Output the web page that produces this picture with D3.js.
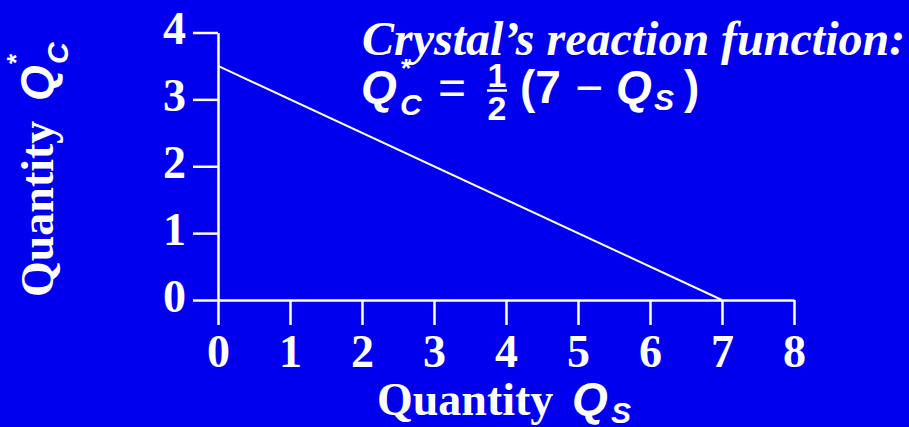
<!DOCTYPE html>
<html>
<head>
<meta charset="utf-8">
<script src="https://cdn.jsdelivr.net/npm/d3@7"></script>
<style>
  html, body { margin: 0; padding: 0; background: #0000ee; }
  svg { display: block; }
</style>
</head>
<body>
<svg id="chart" width="909" height="427"></svg>
<script>
// Crystal's reaction function: Qc* = 1/2 (7 - Qs)
const xTicks = [0, 1, 2, 3, 4, 5, 6, 7, 8];
const yTicks = [0, 1, 2, 3, 4];
const xDomain = [0, 8];
const yDomain = [0, 4];
// Endpoints of the reaction line (Qs, Qc)
const reactionQs = [0, 7];
const reactionQc = [3.5, 0];

const W = 909, H = 427;
const BG = "#0000ee";
const FG = "#ffffff";
const serif = "'Liberation Serif', 'Times New Roman', serif";
const sans = "'Liberation Sans', Arial, Helvetica, sans-serif";

const svg = d3.select("#chart");
svg.append("rect").attr("width", W).attr("height", H).attr("fill", BG);

const x = d3.scaleLinear().domain(xDomain).range([218, 794]);
const y = d3.scaleLinear().domain(yDomain).range([300, 32.5]);

// X axis
const gx = svg.append("g")
  .attr("transform", `translate(0,${y(0)})`)
  .call(d3.axisBottom(x).tickValues(xTicks).tickSize(25).tickSizeOuter(0).tickFormat(d3.format("d")));

// Y axis
const gy = svg.append("g")
  .attr("transform", `translate(${x(0)},0)`)
  .call(d3.axisLeft(y).tickValues(yTicks).tickSize(25).tickSizeOuter(0).tickFormat(d3.format("d")));

[gx, gy].forEach(g => {
  g.select(".domain").attr("stroke", FG).attr("stroke-width", 2.5);
  g.selectAll(".tick line").attr("stroke", FG).attr("stroke-width", 2.5);
  g.selectAll(".tick text")
    .attr("fill", FG)
    .attr("font-family", serif)
    .attr("font-weight", "bold")
    .attr("font-size", 46);
});
gx.selectAll(".tick text").attr("y", 67).attr("dy", 0);
gy.selectAll(".tick text").attr("x", -32).attr("dy", 0).attr("y", 11);

// Reaction line
const line = d3.line().x(d => x(d[0])).y(d => y(d[1]));
svg.append("path")
  .datum(d3.zip(reactionQs, reactionQc))
  .attr("d", line)
  .attr("fill", "none")
  .attr("stroke", FG)
  .attr("stroke-width", 2);

// Helper for text pieces
function txt(parent, s, px, py, opts) {
  return parent.append("text")
    .attr("x", px).attr("y", py)
    .attr("fill", FG)
    .attr("font-family", opts.family || sans)
    .attr("font-weight", opts.weight || "bold")
    .attr("font-style", opts.italic ? "italic" : "normal")
    .attr("font-size", opts.size)
    .attr("text-anchor", opts.anchor || "start")
    .text(s);
}

// X axis title: Quantity Q_S
txt(svg, "Quantity", 377, 415, {family: serif, size: 46});
txt(svg, "Q", 572, 415, {italic: true, size: 46});
txt(svg, "S", 611, 423, {italic: true, size: 30});

// Y axis title: Quantity Q*_C (rotated)
const gyl = svg.append("g").attr("transform", "translate(53,297) rotate(-90)");
txt(gyl, "Quantity", 0, 0, {family: serif, size: 46});
txt(gyl, "Q", 196, 0, {italic: true, size: 46});
txt(gyl, "C", 233, 15, {italic: true, size: 30});
txt(gyl, "*", 233, -28, {size: 26});

// Annotation
txt(svg, "Crystal\u2019s reaction function:", 362, 55, {family: serif, italic: true, size: 48});
txt(svg, "Q", 361, 103, {italic: true, size: 46});
txt(svg, "*", 401, 77, {size: 26});
txt(svg, "C", 400, 115, {italic: true, size: 30});
txt(svg, "=", 438, 104, {size: 48, weight: "normal"});
txt(svg, "1", 497, 87, {size: 34, anchor: "middle"});
svg.append("line").attr("x1", 487).attr("x2", 507).attr("y1", 90.5).attr("y2", 90.5)
  .attr("stroke", FG).attr("stroke-width", 2.5);
txt(svg, "2", 497, 120, {size: 34, anchor: "middle"});
txt(svg, "(7", 520, 103, {size: 46});
txt(svg, "\u2212", 575, 104, {size: 48, weight: "normal"});
txt(svg, "Q", 616, 103, {italic: true, size: 46});
txt(svg, "S", 654, 110, {italic: true, size: 30});
txt(svg, ")", 684, 103, {size: 46});
</script>
</body>
</html>
